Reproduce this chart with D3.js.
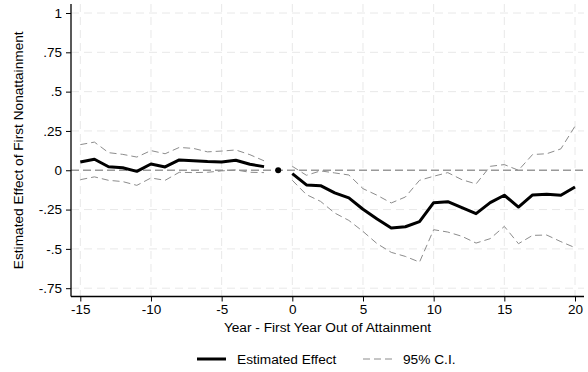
<!DOCTYPE html>
<html>
<head>
<meta charset="utf-8">
<script src="https://cdn.jsdelivr.net/npm/d3@7"></script>
<style>
  body { margin: 0; background: #fff; }
  svg { display: block; font-family: "Liberation Sans", Arial, sans-serif; }
</style>
</head>
<body>
<svg id="chart" width="588" height="372"></svg>
<script>
// event-study estimates, year -1 is the omitted reference year
const years = [-15, -14, -13, -12, -11, -10, -9, -8, -7, -6, -5, -4, -3, -2, -1,
  0, 1, 2, 3, 4, 5, 6, 7, 8, 9, 10, 11, 12, 13, 14, 15, 16, 17, 18, 19, 20];
const estimate = [0.052, 0.07, 0.022, 0.016, -0.007, 0.04, 0.021, 0.066, 0.061, 0.055, 0.052, 0.064, 0.038, 0.023, null,
  -0.021, -0.093, -0.098, -0.144, -0.176, -0.248, -0.31, -0.367, -0.359, -0.327, -0.206, -0.2, -0.238, -0.276, -0.206, -0.159, -0.234, -0.157, -0.153, -0.159, -0.106];
const upperCI = [0.163, 0.179, 0.112, 0.101, 0.084, 0.125, 0.105, 0.145, 0.139, 0.117, 0.122, 0.129, 0.099, 0.06, null,
  0.025, -0.032, -0.004, -0.017, -0.03, -0.117, -0.159, -0.208, -0.17, -0.064, -0.038, -0.015, -0.06, -0.087, 0.025, 0.036, 0, 0.1, 0.105, 0.136, 0.28];
const lowerCI = [-0.06, -0.042, -0.064, -0.072, -0.096, -0.049, -0.064, -0.013, -0.015, -0.013, -0.004, 0.002, -0.013, -0.015, null,
  -0.064, -0.155, -0.198, -0.272, -0.319, -0.389, -0.467, -0.522, -0.548, -0.584, -0.378, -0.393, -0.42, -0.463, -0.435, -0.357, -0.467, -0.414, -0.412, -0.454, -0.492];
const refYear = -1;

const xTicks = [-15, -10, -5, 0, 5, 10, 15, 20];
const yTicks = [1, 0.75, 0.5, 0.25, 0, -0.25, -0.5, -0.75];
const yTickLabels = ['1', '.75', '.5', '.25', '0', '-.25', '-.5', '-.75'];

const svg = d3.select('#chart');
const plot = { left: 71, right: 584, top: 4, bottom: 296.5 };

const x = d3.scaleLinear().domain([-15, 20]).range([80.3, 575]);
const y = d3.scaleLinear().domain([-0.75, 1]).range([288.2, 13]);

// gridlines
const grid = svg.append('g');
grid.selectAll('line.vg').data(xTicks).join('line').attr('class', 'vg')
  .attr('x1', d => x(d)).attr('x2', d => x(d))
  .attr('y1', plot.top).attr('y2', plot.bottom)
  .attr('stroke', '#e8e8e8').attr('stroke-width', 1).attr('stroke-dasharray', '8,5');
grid.selectAll('line.hg').data(yTicks.filter(d => d !== 0)).join('line').attr('class', 'hg')
  .attr('x1', plot.left).attr('x2', plot.right)
  .attr('y1', d => y(d)).attr('y2', d => y(d))
  .attr('stroke', '#e8e8e8').attr('stroke-width', 1).attr('stroke-dasharray', '8,5');

// zero reference line
svg.append('line')
  .attr('x1', plot.left).attr('x2', plot.right)
  .attr('y1', y(0)).attr('y2', y(0))
  .attr('stroke', '#999').attr('stroke-width', 1.5).attr('stroke-dasharray', '8,4');

// axes
const yAxis = svg.append('g').attr('transform', `translate(${plot.left},0)`)
  .call(d3.axisLeft(y).tickValues(yTicks).tickSize(5).tickPadding(4)
    .tickFormat((d, i) => yTickLabels[i]));
const xAxis = svg.append('g').attr('transform', `translate(0,${plot.bottom})`)
  .call(d3.axisBottom(x).tickValues(xTicks).tickSize(5).tickPadding(3)
    .tickFormat(d => d));
[yAxis, xAxis].forEach(a => {
  a.select('.domain').remove();
  a.selectAll('text').attr('font-size', 13.5).attr('fill', '#000')
    .style('font-family', '"Liberation Sans", Arial, sans-serif');
  a.selectAll('line').attr('stroke', '#000');
});
svg.append('line').attr('x1', plot.left).attr('x2', plot.left)
  .attr('y1', plot.top).attr('y2', plot.bottom).attr('stroke', '#000').attr('stroke-width', 1.3);
svg.append('line').attr('x1', plot.left).attr('x2', plot.right)
  .attr('y1', plot.bottom).attr('y2', plot.bottom).attr('stroke', '#000').attr('stroke-width', 1.3);

// series
const mkLine = vals => d3.line()
  .defined((d, i) => vals[i] !== null)
  .x(d => x(d))
  .y((d, i) => y(vals[i]));

svg.append('path').datum(years).attr('d', mkLine(upperCI))
  .attr('fill', 'none').attr('stroke', '#8c8c8c').attr('stroke-width', 1).attr('stroke-dasharray', '7,4');
svg.append('path').datum(years).attr('d', mkLine(lowerCI))
  .attr('fill', 'none').attr('stroke', '#8c8c8c').attr('stroke-width', 1).attr('stroke-dasharray', '7,4');
svg.append('path').datum(years).attr('d', mkLine(estimate))
  .attr('fill', 'none').attr('stroke', '#000').attr('stroke-width', 3).attr('stroke-linejoin', 'round');

svg.append('circle').attr('cx', x(refYear)).attr('cy', y(0)).attr('r', 3).attr('fill', '#000');

// titles
svg.append('text').attr('x', (plot.left + plot.right) / 2).attr('y', 332)
  .attr('text-anchor', 'middle').attr('font-size', 13.7)
  .text('Year - First Year Out of Attainment');
svg.append('text').attr('transform', `translate(23,${(plot.top + plot.bottom) / 2}) rotate(-90)`)
  .attr('text-anchor', 'middle').attr('font-size', 13.7)
  .text('Estimated Effect of First Nonattainment');

// legend
const legend = svg.append('g');
legend.append('line').attr('x1', 197).attr('x2', 226).attr('y1', 359).attr('y2', 359)
  .attr('stroke', '#000').attr('stroke-width', 3);
legend.append('text').attr('x', 237).attr('y', 364).attr('font-size', 13.7).text('Estimated Effect');
legend.append('line').attr('x1', 363).attr('x2', 393).attr('y1', 359).attr('y2', 359)
  .attr('stroke', '#8c8c8c').attr('stroke-width', 1).attr('stroke-dasharray', '7,4');
legend.append('text').attr('x', 403).attr('y', 364).attr('font-size', 13.7).text('95% C.I.');
</script>
</body>
</html>
